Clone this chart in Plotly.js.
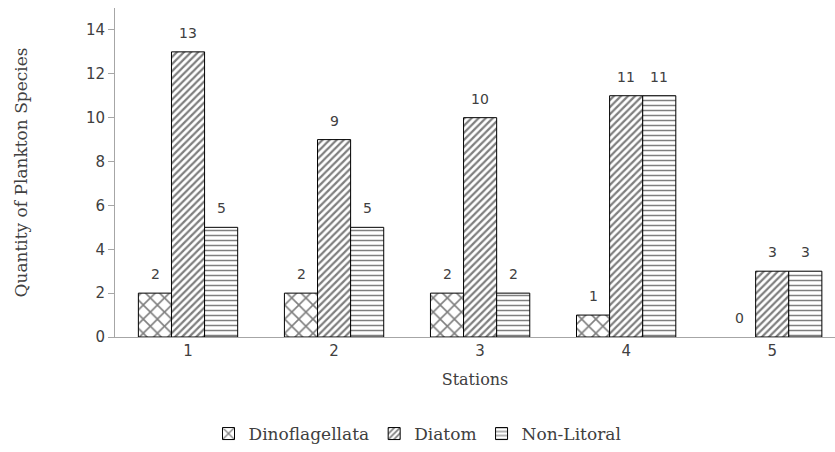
<!DOCTYPE html>
<html><head><meta charset="utf-8">
<script src="https://cdn.plot.ly/plotly-3.0.1.min.js"></script>
<style>body{margin:0;background:#fff;overflow:hidden}#chart{width:835px;height:452px}</style>
</head><body><div id="chart"></div>
<script>
const stations = ["1", "2", "3", "4", "5"];
const dinoflagellata = [2, 2, 2, 1, 0];
const diatom = [13, 9, 10, 11, 3];
const nonLitoral = [5, 5, 2, 11, 3];
const seriesNames = ["Dinoflagellata", "Diatom", "Non-Litoral"];
const yTicks = [0, 2, 4, 6, 8, 10, 12, 14];

const series = [dinoflagellata, diatom, nonLitoral];
const patterns = [
  {shape: "x", size: 10, solidity: 0.3},
  {shape: "/", size: 5, solidity: 0.45},
  {shape: "-", size: 5, solidity: 0.3}
];

const traces = series.map((vals, i) => ({
  type: "bar",
  name: seriesNames[i],
  x: stations,
  y: vals,
  marker: {
    color: "#ffffff",
    line: {color: "#000000", width: vals.map(v => v === 0 ? 0 : 1)},
    pattern: Object.assign({fgcolor: "#000000", bgcolor: "#ffffff", fillmode: "overlay"}, patterns[i])
  },
  textposition: "none",
  hoverinfo: "x+y+name"
}));

const barPx = 33;
const annotations = [];
series.forEach((vals, i) => {
  vals.forEach((v, j) => {
    annotations.push({
      x: j, y: v, xref: "x", yref: "y",
      text: String(v), showarrow: false,
      xshift: (i - 1) * barPx, yshift: 9, yanchor: "bottom",
      font: {family: "DejaVu Sans", size: 14, color: "#404040"}
    });
  });
});

const serif = "DejaVu Serif";
const layout = {
  width: 835, height: 452,
  margin: {l: 115, r: 0, t: 8, b: 115},
  paper_bgcolor: "#ffffff", plot_bgcolor: "#ffffff",
  barmode: "group", bargap: 0.32, bargroupgap: 0,
  showlegend: true,
  legend: {
    orientation: "h", xref: "container", x: 0.5, xanchor: "center",
    yref: "container", y: -0.01, yanchor: "bottom",
    font: {family: serif, size: 17, color: "#404040"},
    traceorder: "normal"
  },
  xaxis: {
    type: "category", range: [-0.5, 4.43],
    showline: true, linecolor: "#a6a6a6", linewidth: 1,
    ticks: "", showgrid: false, zeroline: false,
    tickfont: {family: "DejaVu Sans", size: 15, color: "#404040"},
    title: {text: "Stations", font: {family: serif, size: 16, color: "#404040"}, standoff: 14}
  },
  yaxis: {
    range: [0, 15], tickvals: yTicks, ticktext: yTicks.map(String),
    showline: true, linecolor: "#a6a6a6", linewidth: 1,
    ticks: "outside", ticklen: 6, tickcolor: "#a6a6a6",
    showgrid: false, zeroline: false,
    tickfont: {family: "DejaVu Sans", size: 15, color: "#404040"},
    title: {text: "Quantity of Plankton Species", font: {family: serif, size: 17, color: "#404040"}, standoff: 53}
  },
  annotations: annotations
};

Plotly.newPlot("chart", traces, layout, {displayModeBar: false, staticPlot: true});
</script>
</body></html>
